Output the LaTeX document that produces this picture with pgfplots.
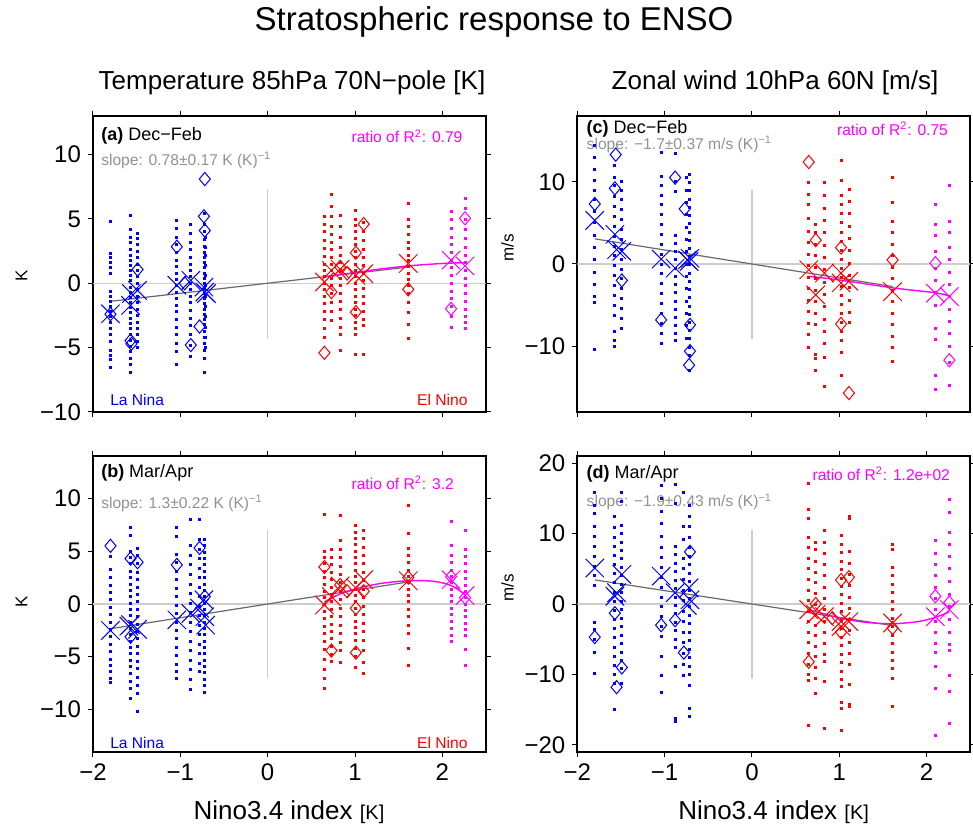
\documentclass[border=0pt]{standalone}
\usepackage{fontspec}
\setmainfont{Liberation Sans}
\usepackage{pgfplots}
\pgfplotsset{compat=1.18}
\definecolor{lgray}{RGB}{205,205,205}
\definecolor{dgray}{RGB}{105,105,105}
\definecolor{tgray}{RGB}{145,145,145}
\definecolor{mag}{RGB}{255,0,255}
\definecolor{bl}{RGB}{0,0,255}
\definecolor{rd}{RGB}{255,0,0}
\pgfplotsset{
 pan/.style={scale only axis, width=196.5pt, height=148pt, xmin=-2, xmax=2.5,
  xtick={-2,-1,0,1,2}, tick align=outside, xtick pos=both, ytick pos=both,
  xticklabel pos=lower, yticklabel pos=left, major tick length=2.5pt,
  axis line style={line width=0.85pt}, every tick/.style={black, line width=0.5pt},
  tick label style={font=\fontsize{12}{14}\selectfont}},
 dots/.style={only marks, mark=square*, mark size=0.5pt},
 dia/.style={only marks, mark=diamond, mark size=3.3pt, mark options={line width=0.5pt, fill=none, solid, xscale=1.12}},
 xx/.style={only marks, mark=x, mark size=6.5pt, mark options={line width=0.5pt}},
}
\tikzset{
 lab/.style={inner sep=0pt, anchor=west, font=\fontsize{9}{10}\selectfont},
 sm/.style={inner sep=0pt, font=\fontsize{7.8}{9}\selectfont},
}
\begin{document}
\begin{tikzpicture}
\path[use as bounding box] (0pt,0pt) rectangle (486.5pt,412pt);
% ---------------- panel (a)
\begin{axis}[pan, at={(46.5pt,206pt)}, anchor=south west, ymin=-10, ymax=13,
 xticklabels={}, ytick={-10,-5,0,5,10}, yticklabels={−10,−5,0,5,10}]
\addplot[lgray, line width=0.6pt] coordinates {(-2,0)(2.5,0)};
\addplot[lgray, line width=0.6pt] coordinates {(0,-4.3)(0,7.3)};
\addplot[dots, bl] coordinates {
(-1.80,4.8)(-1.80,2.3)(-1.80,2.0)(-1.80,1.6)(-1.80,1.2)(-1.80,0.8)(-1.80,-0.6)(-1.80,-1.0)(-1.80,-1.4)(-1.80,-1.8)(-1.80,-2.2)(-1.80,-2.6)(-1.80,-3.0)(-1.80,-3.5)(-1.80,-4.0)(-1.80,-4.5)(-1.80,-5.2)(-1.80,-5.6)(-1.80,-5.9)(-1.80,-6.5)
(-1.57,5.3)(-1.57,4.2)(-1.57,3.6)(-1.57,3.2)(-1.57,2.6)(-1.57,2.2)(-1.57,1.8)(-1.57,1.4)(-1.57,1.0)(-1.57,0.6)(-1.57,0.2)(-1.57,-0.3)(-1.57,-0.7)(-1.57,-1.1)(-1.57,-1.5)(-1.57,-1.9)(-1.57,-2.3)(-1.57,-2.7)(-1.57,-3.1)(-1.57,-3.5)(-1.57,-4.0)(-1.57,-4.4)(-1.57,-4.9)(-1.57,-5.3)(-1.57,-5.8)(-1.57,-6.3)(-1.57,-6.9)
(-1.49,3.9)(-1.49,3.5)(-1.49,3.0)(-1.49,2.5)(-1.49,2.0)(-1.49,1.5)(-1.49,1.0)(-1.49,0.5)(-1.49,0.0)(-1.49,-0.5)(-1.49,-1.0)(-1.49,-1.5)(-1.49,-2.0)(-1.49,-2.5)(-1.49,-3.0)(-1.49,-3.5)(-1.49,-4.0)(-1.49,-4.5)(-1.49,-5.0)
(-1.04,4.9)(-1.04,4.3)(-1.04,3.6)(-1.04,3.0)(-1.04,2.4)(-1.04,1.8)(-1.04,1.3)(-1.04,0.8)(-1.04,0.3)(-1.04,-0.2)(-1.04,-0.7)(-1.04,-1.2)(-1.04,-1.7)(-1.04,-2.2)(-1.04,-2.8)(-1.04,-3.4)(-1.04,-4.0)(-1.04,-4.7)(-1.04,-5.3)(-1.04,-6.3)
(-0.88,4.6)(-0.88,3.9)(-0.88,3.2)(-0.88,2.6)(-0.88,2.0)(-0.88,1.5)(-0.88,1.0)(-0.88,0.5)(-0.88,0.0)(-0.88,-0.5)(-0.88,-1.0)(-0.88,-1.5)(-0.88,-2.1)(-0.88,-2.7)(-0.88,-3.3)(-0.88,-4.0)(-0.88,-4.8)(-0.88,-5.7)
(-0.73,5.4)(-0.73,4.6)(-0.73,4.0)(-0.73,3.4)(-0.73,2.9)(-0.73,2.4)(-0.73,2.0)(-0.73,1.6)(-0.73,1.2)(-0.73,0.8)(-0.73,0.4)(-0.73,0.0)(-0.73,-0.4)(-0.73,-0.8)(-0.73,-1.2)(-0.73,-1.6)(-0.73,-2.0)(-0.73,-2.4)(-0.73,-2.8)(-0.73,-3.2)(-0.73,-3.7)(-0.73,-4.2)(-0.73,-4.7)(-0.73,-5.2)(-0.73,-5.8)(-0.73,-6.9)
(-0.71,3.6)(-0.71,2.8)(-0.71,2.2)(-0.71,1.4)(-0.71,0.6)(-0.71,-0.2)(-0.71,-1.0)(-0.71,-1.8)(-0.71,-2.6)(-0.71,-3.4)(-0.71,-4.2)(-0.71,-5.0)};
\addplot[dots, rd] coordinates {
(0.65,5.2)(0.65,4.6)(0.65,4.0)(0.65,3.3)(0.65,2.7)(0.65,2.1)(0.65,1.5)(0.65,1.0)(0.65,0.5)(0.65,0.0)(0.65,-0.5)(0.65,-1.0)(0.65,-1.6)(0.65,-2.2)(0.65,-2.8)(0.65,-3.5)(0.65,-4.2)
(0.73,6.9)(0.73,6.0)(0.73,5.2)(0.73,4.4)(0.73,3.8)(0.73,3.2)(0.73,2.6)(0.73,2.0)(0.73,1.5)(0.73,1.0)(0.73,0.4)(0.73,-0.2)(0.73,-0.8)(0.73,-1.5)(0.73,-2.2)(0.73,-2.9)
(0.83,5.3)(0.83,4.4)(0.83,3.6)(0.83,2.8)(0.83,2.2)(0.83,1.6)(0.83,1.0)(0.83,0.4)(0.83,-0.2)(0.83,-0.8)(0.83,-1.4)(0.83,-2.0)(0.83,-2.7)(0.83,-3.4)(0.83,-4.0)(0.83,-5.2)
(1.01,5.7)(1.01,5.0)(1.01,4.5)(1.01,4.0)(1.01,3.5)(1.01,3.0)(1.01,2.5)(1.01,2.0)(1.01,1.5)(1.01,1.0)(1.01,0.5)(1.01,0.0)(1.01,-0.5)(1.01,-1.0)(1.01,-1.5)(1.01,-2.0)(1.01,-2.5)(1.01,-3.0)(1.01,-3.5)(1.01,-4.0)(1.01,-5.5)
(1.10,4.7)(1.10,4.0)(1.10,3.3)(1.10,2.6)(1.10,2.0)(1.10,1.4)(1.10,0.8)(1.10,0.2)(1.10,-0.4)(1.10,-1.0)(1.10,-1.6)(1.10,-2.2)(1.10,-2.8)(1.10,-3.3)(1.10,-5.5)
(1.61,6.2)(1.61,5.0)(1.61,4.4)(1.61,3.8)(1.61,3.2)(1.61,2.7)(1.61,2.2)(1.61,1.8)(1.61,1.3)(1.61,0.8)(1.61,0.3)(1.61,-0.2)(1.61,-0.8)(1.61,-1.5)(1.61,-2.3)(1.61,-3.2)(1.61,-4.3)};
\addplot[dots, mag] coordinates {
(2.10,5.6)(2.10,5.0)(2.10,4.3)(2.10,3.6)(2.10,3.0)(2.10,2.4)(2.10,1.8)(2.10,1.2)(2.10,0.6)(2.10,0.0)(2.10,-0.6)(2.10,-1.2)(2.10,-1.8)(2.10,-2.6)(2.10,-3.4)
(2.26,6.6)(2.26,5.8)(2.26,5.0)(2.26,4.2)(2.26,3.5)(2.26,2.8)(2.26,2.2)(2.26,1.6)(2.26,1.0)(2.26,0.4)(2.26,-0.2)(2.26,-0.8)(2.26,-1.4)(2.26,-2.0)(2.26,-2.6)(2.26,-3.0)(2.26,-3.5)};
\addplot[dia, bl] coordinates {(-1.80,-2.4)(-1.57,-4.45)(-1.56,-4.7)(-1.49,1.07)(-1.04,2.84)(-0.95,0.0)(-0.88,-4.8)(-0.72,8.1)(-0.73,5.2)(-0.72,4.1)(-0.78,-3.36)};
\addplot[dia, rd] coordinates {(0.65,-5.4)(0.73,-0.68)(0.83,1.28)(0.91,0.76)(1.01,2.37)(1.01,-2.24)(1.10,4.6)(1.61,-0.47)};
\addplot[dia, mag] coordinates {(2.10,-1.98)(2.26,5.05)};
\addplot[xx, bl] coordinates {(-1.80,-2.37)(-1.57,-1.72)(-1.56,-0.8)(-1.49,-0.55)(-1.04,-0.15)(-0.88,0.23)(-0.73,-0.3)(-0.72,-0.68)(-0.70,-0.8)};
\addplot[xx, rd] coordinates {(0.65,0.1)(0.73,1.0)(0.83,1.1)(1.01,0.62)(1.10,0.75)(1.61,1.54)};
\addplot[xx, mag] coordinates {(2.10,1.8)(2.26,1.35)};
\addplot[dgray, line width=0.6pt] coordinates {(-1.80,-1.40)(1.61,1.26)};
\addplot[mag, line width=0.7pt, smooth] coordinates {(0.65,0.5)(1.01,0.85)(1.3,1.12)(1.61,1.35)(1.9,1.5)(2.10,1.57)(2.26,1.6)};
\node[lab] at (rel axis cs:0.02,0.932) {\textbf{(a)} Dec−Feb};
\node[sm, anchor=west, tgray] at (rel axis cs:0.02,0.851) {slope: 0.78±0.17 K (K)\textsuperscript{−1}};
\node[sm, anchor=east, mag] at (rel axis cs:0.941,0.932) {ratio of R\textsuperscript{2}: 0.79};
\node[sm, anchor=west, bl] at (rel axis cs:0.043,0.04) {La Nina};
\node[sm, anchor=east, rd] at (rel axis cs:0.954,0.04) {El Nino};
\end{axis}
% ---------------- panel (b)
\begin{axis}[pan, at={(46.5pt,36pt)}, anchor=south west, ymin=-14, ymax=14,
 xticklabels={−2,−1,0,1,2}, ytick={-10,-5,0,5,10}, yticklabels={−10,−5,0,5,10}]
\addplot[lgray, line width=0.6pt] coordinates {(-2,0)(2.5,0)};
\addplot[lgray, line width=0.6pt] coordinates {(0,-7)(0,7)};
\addplot[dots, bl] coordinates {
(-1.80,4.5)(-1.80,3.3)(-1.80,2.5)(-1.80,1.8)(-1.80,1.1)(-1.80,0.4)(-1.80,-0.3)(-1.80,-1.0)(-1.80,-1.7)(-1.80,-2.4)(-1.80,-3.1)(-1.80,-3.8)(-1.80,-4.5)(-1.80,-5.2)(-1.80,-5.8)(-1.80,-6.4)(-1.80,-7.0)(-1.80,-7.4)
(-1.57,7.2)(-1.57,6.5)(-1.57,5.0)(-1.57,4.4)(-1.57,3.8)(-1.57,3.1)(-1.57,2.5)(-1.57,1.9)(-1.57,1.3)(-1.57,0.7)(-1.57,0.1)(-1.57,-0.5)(-1.57,-1.1)(-1.57,-1.7)(-1.57,-2.3)(-1.57,-2.9)(-1.57,-3.5)(-1.57,-4.1)(-1.57,-4.7)(-1.57,-5.3)(-1.57,-5.9)(-1.57,-6.6)(-1.57,-7.3)(-1.57,-8.0)(-1.57,-8.9)
(-1.49,5.3)(-1.49,4.6)(-1.49,3.8)(-1.49,3.0)(-1.49,2.3)(-1.49,1.6)(-1.49,0.9)(-1.49,0.2)(-1.49,-0.5)(-1.49,-1.2)(-1.49,-1.9)(-1.49,-2.6)(-1.49,-3.3)(-1.49,-4.0)(-1.49,-4.7)(-1.49,-5.4)(-1.49,-6.1)(-1.49,-6.9)(-1.49,-7.7)(-1.49,-8.5)(-1.49,-10.2)
(-1.04,7.2)(-1.04,6.4)(-1.04,4.7)(-1.04,3.9)(-1.04,3.1)(-1.04,2.3)(-1.04,1.5)(-1.04,0.7)(-1.04,-0.1)(-1.04,-0.9)(-1.04,-1.7)(-1.04,-2.5)(-1.04,-3.3)(-1.04,-4.1)(-1.04,-4.9)(-1.04,-5.7)(-1.04,-6.4)(-1.04,-7.0)
(-0.88,8.0)(-0.88,5.5)(-0.88,4.6)(-0.88,3.7)(-0.88,2.8)(-0.88,1.9)(-0.88,1.0)(-0.88,0.1)(-0.88,-0.8)(-0.88,-1.7)(-0.88,-2.6)(-0.88,-3.5)(-0.88,-4.4)(-0.88,-5.3)(-0.88,-6.2)(-0.88,-7.1)(-0.88,-8.1)
(-0.78,8.0)(-0.78,6.1)(-0.78,5.2)(-0.78,4.3)(-0.78,3.4)(-0.78,2.5)(-0.78,1.6)(-0.78,0.7)(-0.78,-0.2)(-0.78,-1.1)(-0.78,-2.0)(-0.78,-2.9)(-0.78,-3.8)(-0.78,-4.7)(-0.78,-5.6)(-0.78,-6.4)
(-0.72,6.1)(-0.72,5.5)(-0.72,4.9)(-0.72,4.3)(-0.72,3.7)(-0.72,3.1)(-0.72,2.5)(-0.72,1.9)(-0.72,1.3)(-0.72,0.7)(-0.72,0.1)(-0.72,-0.5)(-0.72,-1.1)(-0.72,-1.7)(-0.72,-2.3)(-0.72,-2.9)(-0.72,-3.5)(-0.72,-4.1)(-0.72,-4.7)(-0.72,-5.3)(-0.72,-5.9)(-0.72,-6.5)(-0.72,-7.1)(-0.72,-7.7)(-0.72,-8.4)};
\addplot[dots, rd] coordinates {
(0.65,8.5)(0.65,5.0)(0.65,4.4)(0.65,3.8)(0.65,3.1)(0.65,2.5)(0.65,1.9)(0.65,1.2)(0.65,0.6)(0.65,0.0)(0.65,-0.7)(0.65,-1.4)(0.65,-2.1)(0.65,-2.8)(0.65,-3.5)(0.65,-4.3)(0.65,-5.2)(0.65,-6.2)(0.65,-7.0)(0.65,-8.0)
(0.73,5.2)(0.73,4.4)(0.73,3.7)(0.73,3.0)(0.73,2.3)(0.73,1.6)(0.73,0.9)(0.73,0.2)(0.73,-0.5)(0.73,-1.2)(0.73,-1.9)(0.73,-2.6)(0.73,-3.3)(0.73,-4.0)(0.73,-4.8)(0.73,-5.4)
(0.83,8.4)(0.83,6.0)(0.83,5.2)(0.83,4.4)(0.83,3.6)(0.83,2.8)(0.83,2.0)(0.83,1.2)(0.83,0.4)(0.83,-0.4)(0.83,-1.2)(0.83,-2.0)(0.83,-2.8)(0.83,-3.6)(0.83,-4.4)(0.83,-5.5)
(1.01,7.4)(1.01,6.8)(1.01,6.2)(1.01,5.6)(1.01,5.0)(1.01,4.4)(1.01,3.8)(1.01,3.2)(1.01,2.6)(1.01,2.0)(1.01,1.4)(1.01,0.8)(1.01,0.2)(1.01,-0.4)(1.01,-1.0)(1.01,-1.6)(1.01,-2.2)(1.01,-2.8)(1.01,-3.4)(1.01,-4.2)(1.01,-5.0)(1.01,-6.0)
(1.10,7.0)(1.10,6.2)(1.10,5.4)(1.10,4.6)(1.10,3.8)(1.10,3.0)(1.10,2.2)(1.10,1.4)(1.10,0.6)(1.10,-0.2)(1.10,-1.0)(1.10,-1.8)(1.10,-2.6)(1.10,-3.4)(1.10,-4.4)(1.10,-5.5)(1.10,-6.6)
(1.61,9.3)(1.61,6.7)(1.61,5.3)(1.61,4.6)(1.61,3.9)(1.61,3.2)(1.61,2.6)(1.61,2.0)(1.61,1.4)(1.61,0.8)(1.61,0.2)(1.61,-0.5)(1.61,-1.2)(1.61,-2.0)(1.61,-2.8)(1.61,-4.2)(1.61,-5.8)};
\addplot[dots, mag] coordinates {
(2.10,7.8)(2.10,5.5)(2.10,4.6)(2.10,3.9)(2.10,3.2)(2.10,2.6)(2.10,2.0)(2.10,1.4)(2.10,0.8)(2.10,0.2)(2.10,-0.4)(2.10,-1.0)(2.10,-1.6)(2.10,-2.3)(2.10,-3.0)(2.10,-3.5)
(2.26,7.0)(2.26,5.2)(2.26,4.5)(2.26,3.8)(2.26,3.1)(2.26,2.4)(2.26,1.8)(2.26,1.2)(2.26,0.6)(2.26,0.0)(2.26,-0.6)(2.26,-1.2)(2.26,-1.8)(2.26,-2.4)(2.26,-3.0)(2.26,-4.3)(2.26,-5.8)};
\addplot[dia, bl] coordinates {(-1.80,5.5)(-1.57,4.3)(-1.57,-3.1)(-1.49,3.95)(-1.04,3.7)(-0.78,5.3)(-0.72,0.7)};
\addplot[dia, rd] coordinates {(0.65,3.5)(0.73,-4.4)(0.83,1.8)(0.91,1.2)(1.01,-0.4)(1.01,-4.6)(1.10,1.2)(1.61,2.5)};
\addplot[dia, mag] coordinates {(2.10,2.6)(2.26,0.6)};
\addplot[xx, bl] coordinates {(-1.80,-2.5)(-1.59,-2.1)(-1.57,-1.96)(-1.49,-2.4)(-1.04,-1.5)(-0.88,-0.9)(-0.78,-0.4)(-0.72,-1.2)(-0.71,-2.0)(-0.73,0.4)};
\addplot[xx, rd] coordinates {(0.65,-0.1)(0.73,0.7)(0.83,1.7)(1.01,1.5)(1.10,2.3)(1.61,2.2)};
\addplot[xx, mag] coordinates {(2.10,2.3)(2.26,0.8)};
\addplot[dgray, line width=0.6pt] coordinates {(-1.80,-2.34)(1.61,2.09)};
\addplot[mag, line width=0.7pt, smooth] coordinates {(0.65,0.2)(0.83,0.95)(1.01,1.45)(1.3,1.95)(1.61,2.2)(1.9,2.15)(2.10,1.75)(2.26,0.9)};
\node[lab] at (rel axis cs:0.02,0.943) {\textbf{(b)} Mar/Apr};
\node[sm, anchor=west, tgray] at (rel axis cs:0.02,0.841) {slope: 1.3±0.22 K (K)\textsuperscript{−1}};
\node[sm, anchor=east, mag] at (rel axis cs:0.919,0.909) {ratio of R\textsuperscript{2}: 3.2};
\node[sm, anchor=west, bl] at (rel axis cs:0.043,0.03) {La Nina};
\node[sm, anchor=east, rd] at (rel axis cs:0.954,0.03) {El Nino};
\end{axis}
% ---------------- panel (c)
\begin{axis}[pan, at={(288.65pt,206pt)}, anchor=south west, ymin=-18, ymax=18,
 xticklabels={}, ytick={-10,0,10}, yticklabels={−10,0,10}]
\addplot[lgray, line width=0.6pt] coordinates {(-2,0)(2.5,0)};
\addplot[lgray, line width=0.6pt] coordinates {(0,-9.1)(0,9.0)};
\addplot[dots, bl] coordinates {
(-1.80,14.4)(-1.80,13.0)(-1.80,11.5)(-1.80,10.2)(-1.80,9.0)(-1.80,7.8)(-1.80,6.4)(-1.80,5.0)(-1.80,3.5)(-1.80,2.0)(-1.80,0.5)(-1.80,-1.0)(-1.80,-2.5)(-1.80,-4.0)(-1.80,-4.7)(-1.80,-10.4)
(-1.57,12.0)(-1.57,10.5)(-1.57,9.5)(-1.57,8.2)(-1.57,7.0)(-1.57,5.8)(-1.57,4.6)(-1.57,3.4)(-1.57,2.2)(-1.57,1.0)(-1.57,-0.2)(-1.57,-1.4)(-1.57,-2.6)(-1.57,-3.8)(-1.57,-5.0)(-1.57,-6.2)(-1.57,-8.2)(-1.57,-9.3)(-1.57,-10.0)
(-1.49,10.1)(-1.49,9.0)(-1.49,7.8)(-1.49,6.6)(-1.49,5.4)(-1.49,4.2)(-1.49,3.0)(-1.49,1.8)(-1.49,0.6)(-1.49,-0.6)(-1.49,-1.8)(-1.49,-3.0)(-1.49,-4.2)(-1.49,-5.4)(-1.49,-6.6)(-1.49,-7.8)
(-1.04,13.6)(-1.04,10.6)(-1.04,9.5)(-1.04,8.4)(-1.04,7.2)(-1.04,6.0)(-1.04,4.8)(-1.04,3.6)(-1.04,2.4)(-1.04,1.2)(-1.04,0.0)(-1.04,-1.2)(-1.04,-2.4)(-1.04,-3.6)(-1.04,-4.8)(-1.04,-6.0)(-1.04,-7.2)(-1.04,-8.4)(-1.04,-9.7)
(-0.88,13.4)(-0.88,10.0)(-0.88,8.8)(-0.88,3.5)(-0.88,2.5)(-0.88,1.5)(-0.88,0.5)(-0.88,-0.5)(-0.88,-1.5)(-0.88,-2.5)(-0.88,-3.5)(-0.88,-4.5)(-0.88,-5.5)(-0.88,-6.5)(-0.88,-7.5)(-0.88,-8.4)(-0.88,-9.3)
(-0.75,10.5)(-0.75,9.0)(-0.75,7.5)(-0.75,6.0)(-0.75,4.5)(-0.75,3.0)(-0.75,1.5)(-0.75,0.0)(-0.75,-1.5)(-0.75,-3.0)(-0.75,-4.5)(-0.75,-6.0)(-0.75,-7.5)(-0.75,-9.0)
(-0.72,10.9)(-0.72,9.9)(-0.72,8.9)(-0.72,7.9)(-0.72,6.9)(-0.72,5.9)(-0.72,4.9)(-0.72,3.9)(-0.72,2.9)(-0.72,1.9)(-0.72,0.9)(-0.72,-0.1)(-0.72,-1.1)(-0.72,-2.1)(-0.72,-3.1)(-0.72,-4.1)(-0.72,-5.1)(-0.72,-6.1)(-0.72,-7.1)(-0.72,-8.1)(-0.72,-9.1)(-0.72,-10.1)(-0.72,-11.1)(-0.72,-12.9)};
\addplot[dots, rd] coordinates {
(0.65,9.9)(0.65,8.5)(0.65,7.2)(0.65,5.6)(0.65,4.0)(0.65,2.6)(0.65,1.2)(0.65,-0.2)(0.65,-1.6)(0.65,-3.0)(0.65,-4.4)(0.65,-5.8)(0.65,-7.2)(0.65,-8.6)(0.65,-10.1)
(0.73,4.8)(0.73,3.8)(0.73,2.4)(0.73,1.0)(0.73,-0.4)(0.73,-1.8)(0.73,-3.2)(0.73,-4.6)(0.73,-6.0)(0.73,-7.4)(0.73,-11.0)(0.73,-11.5)(0.73,-12.9)
(0.83,9.9)(0.83,8.4)(0.83,6.8)(0.83,5.3)(0.83,3.8)(0.83,2.3)(0.83,0.8)(0.83,-0.7)(0.83,-2.2)(0.83,-3.7)(0.83,-5.2)(0.83,-6.7)(0.83,-8.2)(0.83,-9.7)(0.83,-11.3)(0.83,-14.9)
(1.02,12.6)(1.02,10.2)(1.02,8.3)(1.02,7.2)(1.02,6.1)(1.02,5.0)(1.02,3.9)(1.02,2.8)(1.02,1.7)(1.02,0.6)(1.02,-0.5)(1.02,-1.6)(1.02,-2.7)(1.02,-3.8)(1.02,-4.9)(1.02,-6.0)(1.02,-7.1)(1.02,-8.2)(1.02,-9.3)(1.02,-10.8)(1.02,-13.6)
(1.11,9.1)(1.11,7.6)(1.11,6.1)(1.11,4.6)(1.11,3.1)(1.11,1.6)(1.11,0.1)(1.11,-1.4)(1.11,-2.9)(1.11,-4.4)(1.11,-5.9)(1.11,-7.1)
(1.61,10.5)(1.61,7.5)(1.61,5.2)(1.61,3.9)(1.61,2.4)(1.61,1.0)(1.61,-0.4)(1.61,-1.8)(1.61,-3.2)(1.61,-4.6)(1.61,-6.0)(1.61,-7.4)(1.61,-8.8)(1.61,-10.2)(1.61,-11.9)};
\addplot[dots, mag] coordinates {
(2.10,7.3)(2.10,4.8)(2.10,3.5)(2.10,1.5)(2.10,-0.5)(2.10,-2.0)(2.10,-3.5)(2.10,-5.0)(2.10,-7.8)(2.10,-9.2)(2.10,-13.5)(2.10,-15.2)
(2.26,9.6)(2.26,5.2)(2.26,3.8)(2.26,2.0)(2.26,0.5)(2.26,-1.0)(2.26,-2.5)(2.26,-4.0)(2.26,-5.5)(2.26,-7.0)(2.26,-8.5)(2.26,-10.0)(2.26,-12.0)(2.26,-14.8)};
\addplot[dia, bl] coordinates {(-1.80,7.3)(-1.56,13.3)(-1.57,9.2)(-1.49,-2.0)(-1.04,-6.8)(-0.88,10.5)(-0.77,6.7)(-0.71,-7.4)(-0.71,-10.6)(-0.72,-12.3)};
\addplot[dia, rd] coordinates {(0.65,12.4)(0.73,2.9)(1.02,2.0)(1.02,-7.3)(1.11,-15.7)(1.61,0.5)};
\addplot[dia, mag] coordinates {(2.10,0.1)(2.26,-11.7)};
\addplot[xx, bl] coordinates {(-1.80,5.3)(-1.57,3.6)(-1.55,1.75)(-1.49,1.55)(-1.04,0.6)(-0.88,-0.5)(-0.74,0.5)(-0.71,0.7)(-0.72,0.3)};
\addplot[xx, rd] coordinates {(0.65,-0.7)(0.73,-3.75)(0.83,-1.1)(1.02,-1.1)(1.02,-2.3)(1.11,-2.1)(1.61,-3.35)};
\addplot[xx, mag] coordinates {(2.10,-3.55)(2.26,-3.96)};
\addplot[dgray, line width=0.6pt] coordinates {(-1.80,3.06)(1.61,-2.74)};
\addplot[mag, line width=0.7pt, smooth] coordinates {(0.65,-1.5)(1.01,-1.95)(1.61,-2.9)(2.10,-3.5)(2.26,-3.9)};
\node[lab] at (rel axis cs:0.023,0.956) {\textbf{(c)} Dec−Feb};
\node[sm, anchor=west, tgray] at (rel axis cs:0.023,0.905) {slope: −1.7±0.37 m/s (K)\textsuperscript{−1}};
\node[sm, anchor=east, mag] at (rel axis cs:0.944,0.956) {ratio of R\textsuperscript{2}: 0.75};
\end{axis}
% ---------------- panel (d)
\begin{axis}[pan, at={(288.65pt,36pt)}, anchor=south west, ymin=-21, ymax=21,
 xticklabels={−2,−1,0,1,2}, ytick={-20,-10,0,10,20}, yticklabels={−20,−10,0,10,20}]
\addplot[lgray, line width=0.6pt] coordinates {(-2,0)(2.5,0)};
\addplot[lgray, line width=0.6pt] coordinates {(0,-10.6)(0,10.5)};
\addplot[dots, bl] coordinates {
(-1.80,15.9)(-1.80,14.0)(-1.80,12.8)(-1.80,11.0)(-1.80,9.6)(-1.80,8.2)(-1.80,6.8)(-1.80,5.4)(-1.80,4.0)(-1.80,2.6)(-1.80,-2.6)(-1.80,-3.6)(-1.80,-5.0)(-1.80,-6.8)(-1.80,-9.8)
(-1.57,12.5)(-1.57,10.9)(-1.57,9.5)(-1.57,8.2)(-1.57,6.9)(-1.57,5.6)(-1.57,4.3)(-1.57,3.0)(-1.57,1.7)(-1.57,0.4)(-1.57,-0.9)(-1.57,-2.2)(-1.57,-3.5)(-1.57,-4.8)(-1.57,-6.1)(-1.57,-7.4)(-1.57,-8.7)(-1.57,-10.0)(-1.57,-11.3)(-1.57,-15.0)
(-1.49,15.9)(-1.49,14.5)(-1.49,11.2)(-1.49,10.0)(-1.49,8.8)(-1.49,7.6)(-1.49,6.4)(-1.49,5.2)(-1.49,4.0)(-1.49,2.8)(-1.49,1.6)(-1.49,0.4)(-1.49,-0.8)(-1.49,-2.0)(-1.49,-3.2)(-1.49,-4.4)(-1.49,-5.6)(-1.49,-6.8)(-1.49,-8.0)(-1.49,-9.2)(-1.49,-11.3)
(-1.04,16.8)(-1.04,15.0)(-1.04,13.2)(-1.04,11.4)(-1.04,9.6)(-1.04,8.0)(-1.04,6.6)(-1.04,5.2)(-1.04,3.8)(-1.04,2.4)(-1.04,1.0)(-1.04,-0.4)(-1.04,-1.8)(-1.04,-3.2)(-1.04,-4.6)(-1.04,-7.4)(-1.04,-10.2)(-1.04,-12.6)
(-0.88,17.0)(-0.88,14.3)(-0.88,8.2)(-0.88,7.0)(-0.88,5.8)(-0.88,4.6)(-0.88,3.4)(-0.88,2.2)(-0.88,1.0)(-0.88,-0.2)(-0.88,-1.4)(-0.88,-2.6)(-0.88,-3.8)(-0.88,-5.0)(-0.88,-6.2)(-0.88,-8.8)(-0.88,-16.2)(-0.88,-16.6)
(-0.78,15.9)(-0.78,11.0)(-0.78,9.2)(-0.78,6.5)(-0.78,5.0)(-0.78,3.5)(-0.78,2.0)(-0.78,0.5)(-0.78,-1.0)(-0.78,-2.5)(-0.78,-4.0)(-0.78,-5.5)(-0.78,-7.0)(-0.78,-8.5)(-0.78,-10.1)
(-0.72,14.0)(-0.72,12.5)(-0.72,11.0)(-0.72,9.5)(-0.72,8.0)(-0.72,6.8)(-0.72,5.6)(-0.72,4.4)(-0.72,3.2)(-0.72,2.0)(-0.72,0.8)(-0.72,-0.4)(-0.72,-1.6)(-0.72,-2.8)(-0.72,-4.0)(-0.72,-5.2)(-0.72,-6.4)(-0.72,-7.6)(-0.72,-8.8)(-0.72,-10.0)(-0.72,-11.5)(-0.72,-14.8)(-0.72,-15.9)};
\addplot[dots, rd] coordinates {
(0.65,17.1)(0.65,13.4)(0.65,12.2)(0.65,9.5)(0.65,8.0)(0.65,6.5)(0.65,5.0)(0.65,3.5)(0.65,2.0)(0.65,0.5)(0.65,-1.0)(0.65,-2.5)(0.65,-4.0)(0.65,-5.5)(0.65,-7.0)(0.65,-8.5)(0.65,-10.0)(0.65,-10.8)(0.65,-17.2)
(0.73,8.8)(0.73,7.8)(0.73,6.0)(0.73,4.5)(0.73,3.0)(0.73,1.5)(0.73,0.0)(0.73,-1.5)(0.73,-3.0)(0.73,-4.5)(0.73,-6.0)(0.73,-7.5)(0.73,-9.0)(0.73,-10.5)(0.73,-12.7)
(0.83,10.4)(0.83,8.8)(0.83,7.2)(0.83,5.6)(0.83,4.0)(0.83,2.4)(0.83,0.8)(0.83,-0.8)(0.83,-2.4)(0.83,-4.0)(0.83,-5.6)(0.83,-7.2)(0.83,-8.2)(0.83,-11.0)(0.83,-17.7)
(1.02,9.7)(1.02,8.5)(1.02,7.3)(1.02,6.1)(1.02,4.9)(1.02,3.7)(1.02,2.5)(1.02,1.3)(1.02,0.1)(1.02,-1.1)(1.02,-2.3)(1.02,-3.5)(1.02,-4.7)(1.02,-5.9)(1.02,-7.1)(1.02,-8.3)(1.02,-9.5)(1.02,-10.7)(1.02,-11.7)(1.02,-14.0)(1.02,-14.8)(1.02,-17.9)
(1.11,12.5)(1.11,12.2)(1.11,7.4)(1.11,5.8)(1.11,4.2)(1.11,2.6)(1.11,1.0)(1.11,-0.6)(1.11,-2.2)(1.11,-3.8)(1.11,-5.4)(1.11,-7.0)(1.11,-8.5)(1.11,-11.4)(1.11,-14.2)(1.11,-14.6)
(1.61,8.5)(1.61,7.8)(1.61,5.2)(1.61,4.0)(1.61,2.8)(1.61,1.6)(1.61,0.4)(1.61,-0.8)(1.61,-2.0)(1.61,-3.2)(1.61,-4.4)(1.61,-5.6)(1.61,-6.8)(1.61,-8.0)(1.61,-9.2)(1.61,-10.5)(1.61,-14.6)};
\addplot[dots, mag] coordinates {
(2.10,9.0)(2.10,7.2)(2.10,5.6)(2.10,4.0)(2.10,2.4)(2.10,0.8)(2.10,-0.8)(2.10,-2.4)(2.10,-4.0)(2.10,-5.6)(2.10,-6.8)(2.10,-8.8)(2.10,-12.0)(2.10,-18.7)
(2.26,14.9)(2.26,13.0)(2.26,10.2)(2.26,8.5)(2.26,6.8)(2.26,5.0)(2.26,3.2)(2.26,1.4)(2.26,-0.4)(2.26,-2.2)(2.26,-4.0)(2.26,-5.8)(2.26,-6.6)(2.26,-10.2)(2.26,-12.4)(2.26,-16.9)};
\addplot[dia, bl] coordinates {(-1.80,-4.7)(-1.57,-1.3)(-1.55,-11.8)(-1.49,-9.0)(-1.04,-3.0)(-0.88,-2.3)(-0.78,-6.9)(-0.71,7.4)};
\addplot[dia, rd] coordinates {(0.65,-8.2)(0.73,0.0)(0.92,-2.0)(1.02,3.4)(1.02,-4.0)(1.11,3.8)(1.61,-3.4)};
\addplot[dia, mag] coordinates {(2.10,1.1)(2.26,0.2)};
\addplot[xx, bl] coordinates {(-1.80,5.1)(-1.57,1.1)(-1.55,1.6)(-1.49,4.2)(-1.04,3.95)(-0.88,1.6)(-0.72,2.3)(-0.74,-0.2)(-0.71,0.6)};
\addplot[xx, rd] coordinates {(0.65,-0.8)(0.73,-1.5)(0.83,-1.8)(1.02,-2.5)(1.02,-3.2)(1.11,-2.5)(1.61,-2.7)};
\addplot[xx, mag] coordinates {(2.10,-1.8)(2.26,-0.8)};
\addplot[dgray, line width=0.6pt] coordinates {(-1.80,3.42)(1.61,-3.06)};
\addplot[mag, line width=0.7pt, smooth] coordinates {(0.65,-0.85)(0.83,-1.4)(1.01,-2.0)(1.3,-2.6)(1.61,-2.8)(1.9,-2.5)(2.10,-1.9)(2.26,-1.1)};
\node[lab] at (rel axis cs:0.023,0.939) {\textbf{(d)} Mar/Apr};
\node[sm, anchor=west, tgray] at (rel axis cs:0.023,0.845) {slope: −1.9±0.43 m/s (K)\textsuperscript{−1}};
\node[sm, anchor=east, mag] at (rel axis cs:0.949,0.939) {ratio of R\textsuperscript{2}: 1.2e+02};
\end{axis}
% ---------------- outer labels
\node[font=\fontsize{16.5}{19}\selectfont] at (247pt,401pt) {Stratospheric response to ENSO};
\node[font=\fontsize{13}{15}\selectfont] at (146pt,370.5pt) {Temperature 85hPa 70N−pole [K]};
\node[font=\fontsize{13}{15}\selectfont] at (387.5pt,370.5pt) {Zonal wind 10hPa 60N [m/s]};
\node[font=\fontsize{13}{15}\selectfont] at (144.5pt,6pt) {Nino3.4 index {\fontsize{10}{12}\selectfont [K]}};
\node[font=\fontsize{13}{15}\selectfont] at (386.8pt,6pt) {Nino3.4 index {\fontsize{10}{12}\selectfont [K]}};
\node[rotate=90, font=\fontsize{8.5}{10}\selectfont] at (10.8pt,274pt) {K};
\node[rotate=90, font=\fontsize{8.5}{10}\selectfont] at (10.8pt,111pt) {K};
\node[rotate=90, font=\fontsize{8.5}{10}\selectfont] at (253.75pt,288pt) {m/s};
\node[rotate=90, font=\fontsize{8.5}{10}\selectfont] at (253.75pt,118pt) {m/s};
\end{tikzpicture}
\end{document}
